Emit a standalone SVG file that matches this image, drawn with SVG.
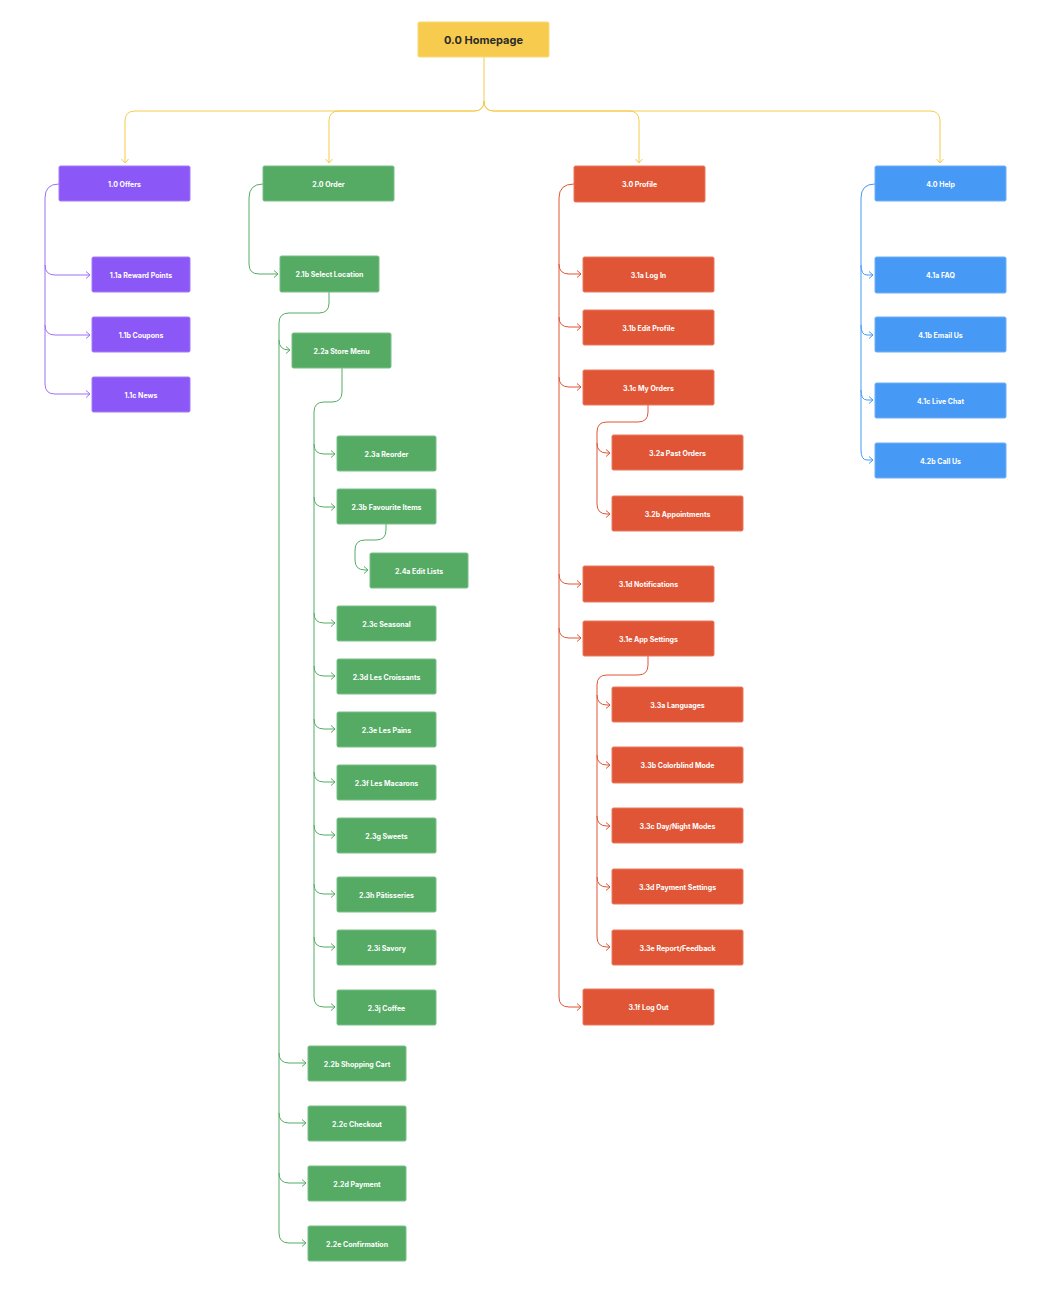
<svg xmlns="http://www.w3.org/2000/svg" width="1050" height="1300" viewBox="0 0 1050 1300">
<style>
.n text{font-family:Inter,"Liberation Sans",sans-serif;font-weight:700;font-size:7px;fill:#fff;text-anchor:middle;dominant-baseline:central}
.n rect{rx:1.5;stroke-width:1}
.p rect{fill:#8B57F6;stroke:#A57DF8}
.g rect{fill:#55AB64;stroke:#7BC088}
.r rect{fill:#E05535;stroke:#EA7A60}
.b rect{fill:#4699F5;stroke:#6FB0F7}
.y rect{fill:#F7CB4D;stroke:#F9D978}
.y text{fill:#2B2B2B;font-size:11px}
.c path{fill:none;stroke-width:1}
.cy path{stroke:#F7CB4D}
.cp path{stroke:#9D6FF8}
.cg path{stroke:#55AB64}
.cr path{stroke:#E05535}
.cb path{stroke:#4699F5}
</style>
<defs>
<marker id="ay" markerWidth="10" markerHeight="10" refX="5" refY="4" orient="auto" markerUnits="userSpaceOnUse"><path d="M1,0.5 L5,4 L1,7.5" fill="none" stroke="#F7CB4D" stroke-width="1"/></marker>
<marker id="ap" markerWidth="10" markerHeight="10" refX="5" refY="4" orient="auto" markerUnits="userSpaceOnUse"><path d="M1,0.5 L5,4 L1,7.5" fill="none" stroke="#9D6FF8" stroke-width="1"/></marker>
<marker id="ag" markerWidth="10" markerHeight="10" refX="5" refY="4" orient="auto" markerUnits="userSpaceOnUse"><path d="M1,0.5 L5,4 L1,7.5" fill="none" stroke="#55AB64" stroke-width="1"/></marker>
<marker id="ar" markerWidth="10" markerHeight="10" refX="5" refY="4" orient="auto" markerUnits="userSpaceOnUse"><path d="M1,0.5 L5,4 L1,7.5" fill="none" stroke="#E05535" stroke-width="1"/></marker>
<marker id="ab" markerWidth="10" markerHeight="10" refX="5" refY="4" orient="auto" markerUnits="userSpaceOnUse"><path d="M1,0.5 L5,4 L1,7.5" fill="none" stroke="#4699F5" stroke-width="1"/></marker>
</defs>
<rect width="1050" height="1300" fill="#fff"/>
<g id="connectors" class="c">
<g class="cy">
<path d="M484,57 V101"/>
<path d="M484,101 Q484,111 474,111 H135 Q125,111 125,121 V163" marker-end="url(#ay)"/>
<path d="M484,101 Q484,111 474,111 H339 Q329,111 329,121 V163" marker-end="url(#ay)"/>
<path d="M484,101 Q484,111 494,111 H629 Q639,111 639,121 V163" marker-end="url(#ay)"/>
<path d="M484,101 Q484,111 494,111 H930 Q940,111 940,121 V163" marker-end="url(#ay)"/>
</g>
<g class="cp">
<path d="M59,184 Q45,184 45,198 V384"/>
<path d="M45,265 Q45,275 55,275 H90" marker-end="url(#ap)"/>
<path d="M45,325 Q45,335 55,335 H90" marker-end="url(#ap)"/>
<path d="M45,384 Q45,394 55,394 H90" marker-end="url(#ap)"/>
</g>
<g class="cg">
<path d="M263,184 Q249,184 249,198 V264"/>
<path d="M249,264 Q249,274 259,274 H278" marker-end="url(#ag)"/>
<path d="M329,292 V303 Q329,313 319,313 H289 Q279,313 279,323 V1233"/>
<path d="M279,340 Q279,350 289,350 H290" marker-end="url(#ag)"/>
<path d="M279,1053 Q279,1063 289,1063 H306" marker-end="url(#ag)"/>
<path d="M279,1113 Q279,1123 289,1123 H306" marker-end="url(#ag)"/>
<path d="M279,1173 Q279,1183 289,1183 H306" marker-end="url(#ag)"/>
<path d="M279,1233 Q279,1243 289,1243 H306" marker-end="url(#ag)"/>
<path d="M342,368 V392 Q342,402 332,402 H324 Q314,402 314,412 V997"/>
<path d="M314,444 Q314,454 324,454 H335" marker-end="url(#ag)"/>
<path d="M314,497 Q314,507 324,507 H335" marker-end="url(#ag)"/>
<path d="M314,613 Q314,623 324,623 H335" marker-end="url(#ag)"/>
<path d="M314,666 Q314,676 324,676 H335" marker-end="url(#ag)"/>
<path d="M314,719 Q314,729 324,729 H335" marker-end="url(#ag)"/>
<path d="M314,772 Q314,782 324,782 H335" marker-end="url(#ag)"/>
<path d="M314,825 Q314,835 324,835 H335" marker-end="url(#ag)"/>
<path d="M314,884 Q314,894 324,894 H335" marker-end="url(#ag)"/>
<path d="M314,937 Q314,947 324,947 H335" marker-end="url(#ag)"/>
<path d="M314,997 Q314,1007 324,1007 H335" marker-end="url(#ag)"/>
<path d="M386,524 V530 Q386,540 376,540 H365 Q355,540 355,550 V560 Q355,570 365,570 H368" marker-end="url(#ag)"/>
</g>
<g class="cr">
<path d="M574,184 Q559,184 559,198 V997"/>
<path d="M559,264 Q559,274 569,274 H581" marker-end="url(#ar)"/>
<path d="M559,317 Q559,327 569,327 H581" marker-end="url(#ar)"/>
<path d="M559,377 Q559,387 569,387 H581" marker-end="url(#ar)"/>
<path d="M559,574 Q559,584 569,584 H581" marker-end="url(#ar)"/>
<path d="M559,628 Q559,638 569,638 H581" marker-end="url(#ar)"/>
<path d="M559,997 Q559,1007 569,1007 H581" marker-end="url(#ar)"/>
<path d="M648,405 V412 Q648,422 638,422 H607 Q597,422 597,432 V504"/>
<path d="M597,443 Q597,453 607,453 H610" marker-end="url(#ar)"/>
<path d="M597,504 Q597,514 607,514 H610" marker-end="url(#ar)"/>
<path d="M648,656 V665 Q648,675 638,675 H607 Q597,675 597,685 V937"/>
<path d="M597,695 Q597,705 607,705 H610" marker-end="url(#ar)"/>
<path d="M597,755 Q597,765 607,765 H610" marker-end="url(#ar)"/>
<path d="M597,816 Q597,826 607,826 H610" marker-end="url(#ar)"/>
<path d="M597,877 Q597,887 607,887 H610" marker-end="url(#ar)"/>
<path d="M597,937 Q597,947 607,947 H610" marker-end="url(#ar)"/>
</g>
<g class="cb">
<path d="M875,184 Q861,184 861,198 V450"/>
<path d="M861,265 Q861,275 867,275 H873" marker-end="url(#ab)"/>
<path d="M861,325 Q861,335 867,335 H873" marker-end="url(#ab)"/>
<path d="M861,390 Q861,400 867,400 H873" marker-end="url(#ab)"/>
<path d="M861,450 Q861,460 867,460 H873" marker-end="url(#ab)"/>
</g>
</g>
<g id="n00" class="n y"><rect x="418" y="22" width="131" height="35"/><text x="483.5" y="40">0.0 Homepage</text></g>
<g id="n10" class="n p"><rect x="59" y="166" width="131" height="35"/><text x="124.5" y="184">1.0 Offers</text></g>
<g id="n11a" class="n p"><rect x="92" y="257" width="98" height="35"/><text x="141" y="275">1.1a Reward Points</text></g>
<g id="n11b" class="n p"><rect x="92" y="317" width="98" height="35"/><text x="141" y="335">1.1b Coupons</text></g>
<g id="n11c" class="n p"><rect x="92" y="377" width="98" height="35"/><text x="141" y="395">1.1c News</text></g>
<g id="n20" class="n g"><rect x="263" y="166" width="131" height="35"/><text x="328.5" y="184">2.0 Order</text></g>
<g id="n21b" class="n g"><rect x="280" y="256" width="99" height="36"/><text x="329.5" y="274">2.1b Select Location</text></g>
<g id="n22a" class="n g"><rect x="292" y="333" width="99" height="35"/><text x="341.5" y="351">2.2a Store Menu</text></g>
<g id="n23a" class="n g"><rect x="337" y="436" width="99" height="35"/><text x="386.5" y="454">2.3a Reorder</text></g>
<g id="n23b" class="n g"><rect x="337" y="489" width="99" height="35"/><text x="386.5" y="507">2.3b Favourite Items</text></g>
<g id="n24a" class="n g"><rect x="370" y="553" width="98" height="35"/><text x="419" y="571">2.4a Edit Lists</text></g>
<g id="n23c" class="n g"><rect x="337" y="606" width="99" height="35"/><text x="386.5" y="624">2.3c Seasonal</text></g>
<g id="n23d" class="n g"><rect x="337" y="659" width="99" height="35"/><text x="386.5" y="677">2.3d Les Croissants</text></g>
<g id="n23e" class="n g"><rect x="337" y="712" width="99" height="35"/><text x="386.5" y="730">2.3e Les Pains</text></g>
<g id="n23f" class="n g"><rect x="337" y="765" width="99" height="35"/><text x="386.5" y="783">2.3f Les Macarons</text></g>
<g id="n23g" class="n g"><rect x="337" y="818" width="99" height="35"/><text x="386.5" y="836">2.3g Sweets</text></g>
<g id="n23h" class="n g"><rect x="337" y="877" width="99" height="35"/><text x="386.5" y="895">2.3h Pâtisseries</text></g>
<g id="n23i" class="n g"><rect x="337" y="930" width="99" height="35"/><text x="386.5" y="948">2.3i Savory</text></g>
<g id="n23j" class="n g"><rect x="337" y="990" width="99" height="35"/><text x="386.5" y="1008">2.3j Coffee</text></g>
<g id="n22b" class="n g"><rect x="308" y="1046" width="98" height="35"/><text x="357" y="1064">2.2b Shopping Cart</text></g>
<g id="n22c" class="n g"><rect x="308" y="1106" width="98" height="35"/><text x="357" y="1124">2.2c Checkout</text></g>
<g id="n22d" class="n g"><rect x="308" y="1166" width="98" height="35"/><text x="357" y="1184">2.2d Payment</text></g>
<g id="n22e" class="n g"><rect x="308" y="1226" width="98" height="35"/><text x="357" y="1244">2.2e Confirmation</text></g>
<g id="n30" class="n r"><rect x="574" y="166" width="131" height="36"/><text x="639.5" y="184">3.0 Profile</text></g>
<g id="n31a" class="n r"><rect x="583" y="257" width="131" height="35"/><text x="648.5" y="275">3.1a Log In</text></g>
<g id="n31b" class="n r"><rect x="583" y="310" width="131" height="35"/><text x="648.5" y="328">3.1b Edit Profile</text></g>
<g id="n31c" class="n r"><rect x="583" y="370" width="131" height="35"/><text x="648.5" y="388">3.1c My Orders</text></g>
<g id="n32a" class="n r"><rect x="612" y="435" width="131" height="35"/><text x="677.5" y="453">3.2a Past Orders</text></g>
<g id="n32b" class="n r"><rect x="612" y="496" width="131" height="35"/><text x="677.5" y="514">3.2b Appointments</text></g>
<g id="n31d" class="n r"><rect x="583" y="566" width="131" height="36"/><text x="648.5" y="584">3.1d Notifications</text></g>
<g id="n31e" class="n r"><rect x="583" y="621" width="131" height="35"/><text x="648.5" y="639">3.1e App Settings</text></g>
<g id="n33a" class="n r"><rect x="612" y="687" width="131" height="35"/><text x="677.5" y="705">3.3a Languages</text></g>
<g id="n33b" class="n r"><rect x="612" y="747" width="131" height="36"/><text x="677.5" y="765">3.3b Colorblind Mode</text></g>
<g id="n33c" class="n r"><rect x="612" y="808" width="131" height="35"/><text x="677.5" y="826">3.3c Day/Night Modes</text></g>
<g id="n33d" class="n r"><rect x="612" y="869" width="131" height="35"/><text x="677.5" y="887">3.3d Payment Settings</text></g>
<g id="n33e" class="n r"><rect x="612" y="930" width="131" height="35"/><text x="677.5" y="948">3.3e Report/Feedback</text></g>
<g id="n31f" class="n r"><rect x="583" y="989" width="131" height="36"/><text x="648.5" y="1007">3.1f Log Out</text></g>
<g id="n40" class="n b"><rect x="875" y="166" width="131" height="35"/><text x="940.5" y="184">4.0 Help</text></g>
<g id="n41a" class="n b"><rect x="875" y="257" width="131" height="36"/><text x="940.5" y="275">4.1a FAQ</text></g>
<g id="n41b" class="n b"><rect x="875" y="317" width="131" height="35"/><text x="940.5" y="335">4.1b Email Us</text></g>
<g id="n41c" class="n b"><rect x="875" y="383" width="131" height="35"/><text x="940.5" y="401">4.1c Live Chat</text></g>
<g id="n42b" class="n b"><rect x="875" y="443" width="131" height="35"/><text x="940.5" y="461">4.2b Call Us</text></g>
</svg>
